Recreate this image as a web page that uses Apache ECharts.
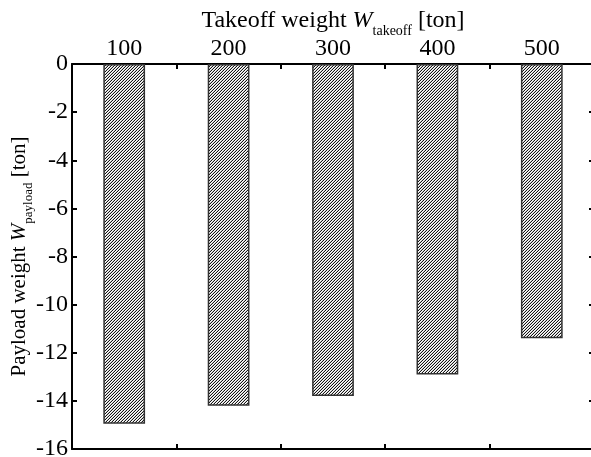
<!DOCTYPE html>
<html>
<head>
<meta charset="utf-8">
<script src="https://cdn.jsdelivr.net/npm/echarts@6/dist/echarts.min.js"></script>
<style>
  html, body { margin: 0; padding: 0; background: #fff; }
  #main { width: 591px; height: 457px; }
</style>
</head>
<body>
<div id="main"></div>
<script>
// takeoff weight categories [ton]
var takeoff = ['100', '200', '300', '400', '500'];
// payload weight change [ton]
var payload = [-14.95, -14.2, -13.8, -12.9, -11.4];
// y ticks
var yMin = -16, yMax = 0, yStep = 2;

// hatch pattern "///"
function makeHatch() {
    var c = document.createElement('canvas');
    c.width = 3; c.height = 3;
    var ctx = c.getContext('2d');
    var img = ctx.createImageData(3, 3);
    for (var y = 0; y < 3; y++) {
        for (var x = 0; x < 3; x++) {
            var k = (x + y) % 3;
            var v = k === 2 ? 20 : (k === 1 ? 205 : 255);
            var i = (y * 3 + x) * 4;
            img.data[i] = v; img.data[i + 1] = v; img.data[i + 2] = v; img.data[i + 3] = 255;
        }
    }
    ctx.putImageData(img, 0, 0);
    return c;
}

var font = 'Liberation Serif';
function richText(size) {
    return {
        t: { fontFamily: font, fontSize: size, color: '#000' },
        i: { fontFamily: font, fontSize: size, fontStyle: 'italic', color: '#000' },
        s: { fontFamily: font, fontSize: Math.round(size * 0.6), color: '#000', verticalAlign: 'bottom', padding: [0, 0, -5, 0] }
    };
}
function axisLine() { return { show: true, onZero: false, lineStyle: { color: '#000', width: 2 } }; }
function tick() { return { show: true, inside: true, length: 5, lineStyle: { color: '#000', width: 2 } }; }

var chart = echarts.init(document.getElementById('main'));
var option = {
    animation: false,
    backgroundColor: '#fff',
    grid: { left: 72, right: -3, top: 64, bottom: 8, outerBoundsMode: 'none', containLabel: false },
    xAxis: [
        {
            type: 'category',
            position: 'top',
            data: takeoff,
            name: '{t|Takeoff weight }{i|W}{s|takeoff}{t| [ton]}',
            nameLocation: 'middle',
            nameGap: 31,
            nameMoveOverlap: false,
            nameTextStyle: { rich: richText(24) },
            axisLine: axisLine(),
            axisTick: tick(),
            axisLabel: { fontFamily: font, fontSize: 24, color: '#000', margin: 3 },
            splitLine: { show: false }
        },
        {
            type: 'category',
            position: 'bottom',
            data: takeoff,
            axisLine: axisLine(),
            axisTick: tick(),
            axisLabel: { show: false },
            splitLine: { show: false }
        }
    ],
    yAxis: [
        {
            type: 'value',
            min: yMin, max: yMax, interval: yStep,
            name: '{t|Payload weight }{i|W}{s|payload}{t| [ton]}',
            nameLocation: 'middle',
            nameGap: 42,
            nameMoveOverlap: false,
            nameRotate: 90,
            nameTextStyle: { rich: richText(21) },
            axisLine: axisLine(),
            axisTick: tick(),
            axisLabel: { fontFamily: font, fontSize: 24, color: '#000', margin: 4 },
            splitLine: { show: false }
        },
        {
            type: 'value',
            position: 'right',
            min: yMin, max: yMax, interval: yStep,
            axisLine: axisLine(),
            axisTick: tick(),
            axisLabel: { show: false },
            splitLine: { show: false }
        }
    ],
    series: [
        {
            type: 'bar',
            data: payload,
            barWidth: '40%',
            itemStyle: {
                color: { image: makeHatch(), repeat: 'repeat' },
                borderColor: '#333',
                borderWidth: 1.5
            }
        }
    ]
};
chart.setOption(option);
</script>
</body>
</html>
